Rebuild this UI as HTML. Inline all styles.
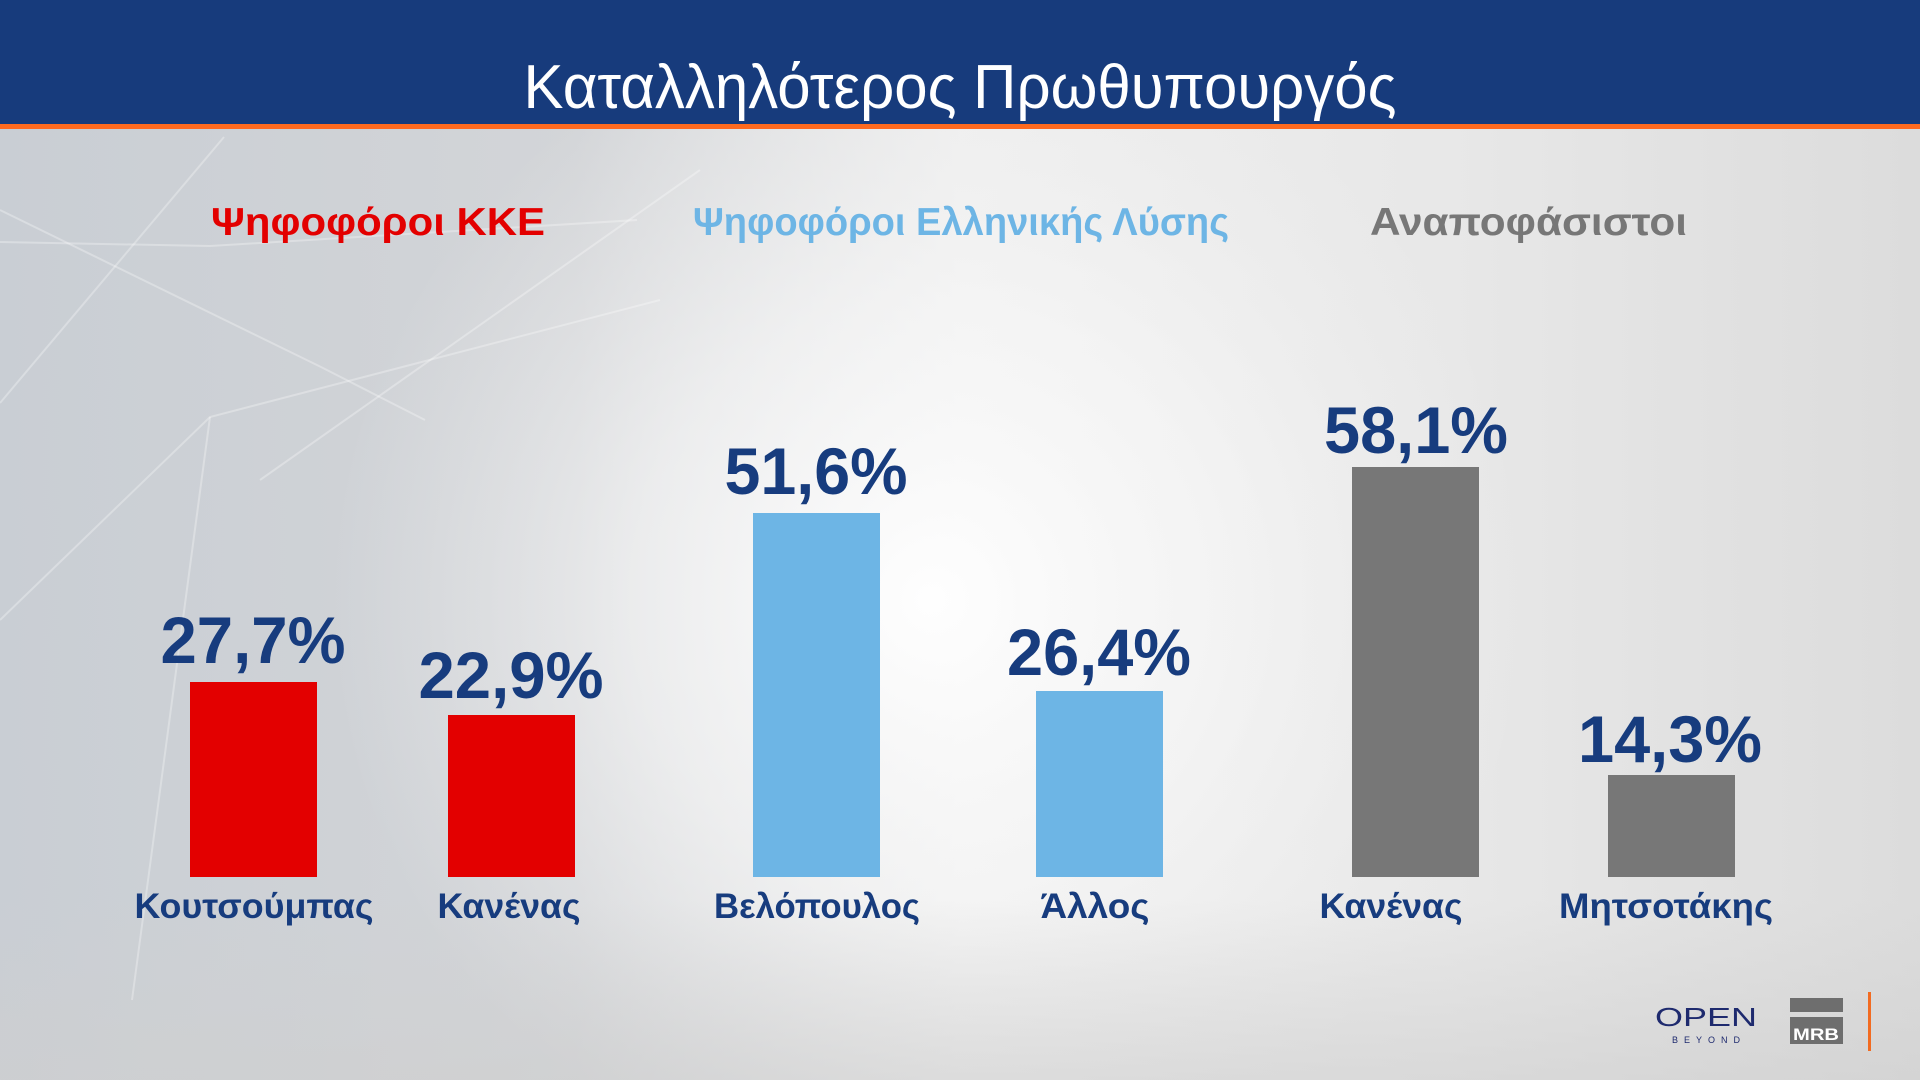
<!DOCTYPE html>
<html>
<head>
<meta charset="utf-8">
<style>
html,body{margin:0;padding:0;width:1920px;height:1080px;overflow:hidden;background:#e6e6e6;}
svg{display:block;}
</style>
</head>
<body>
<svg width="1920" height="1080" viewBox="0 0 1920 1080" xmlns="http://www.w3.org/2000/svg">
  <defs>
    <linearGradient id="bgLin" x1="0" y1="0" x2="1" y2="0">
      <stop offset="0" stop-color="#c9ced4"/>
      <stop offset="0.3" stop-color="#d3d5d8"/>
      <stop offset="0.5" stop-color="#eeeeee"/>
      <stop offset="0.75" stop-color="#e8e8e8"/>
      <stop offset="1" stop-color="#dcdcdc"/>
    </linearGradient>
    <radialGradient id="glow" cx="930" cy="600" r="600" gradientUnits="userSpaceOnUse">
      <stop offset="0" stop-color="#ffffff" stop-opacity="0.95"/>
      <stop offset="0.5" stop-color="#f8f8f8" stop-opacity="0.6"/>
      <stop offset="1" stop-color="#f0f0f0" stop-opacity="0"/>
    </radialGradient>
    <linearGradient id="bot" x1="0" y1="0" x2="0" y2="1">
      <stop offset="0" stop-color="#d0d0d0" stop-opacity="0"/>
      <stop offset="1" stop-color="#cfcfcf" stop-opacity="0.6"/>
    </linearGradient>
  </defs>

  <!-- background -->
  <rect x="0" y="0" width="1920" height="1080" fill="url(#bgLin)"/>
  <rect x="0" y="0" width="1920" height="1080" fill="url(#glow)"/>
  <rect x="0" y="900" width="1920" height="180" fill="url(#bot)"/>

  <!-- faint decorative lines -->
  <g stroke="#ffffff" stroke-opacity="0.3" stroke-width="2" fill="none">
    <polyline points="224,137 0,403"/>
    <polyline points="0,210 321,367 425,420"/>
    <polyline points="0,242 210,246 637,220"/>
    <polyline points="0,620 210,417 660,300"/>
    <polyline points="260,480 700,170"/>
    <polyline points="210,417 132,1000"/>
  </g>

  <!-- header -->
  <rect x="0" y="0" width="1920" height="124" fill="#173b7c"/>
  <rect x="0" y="124" width="1920" height="5" fill="#ff6a1f"/>
  <text x="960" y="108" text-anchor="middle" font-family="Liberation Sans, sans-serif" font-size="62" fill="#ffffff" textLength="873" lengthAdjust="spacingAndGlyphs">Καταλληλότερος Πρωθυπουργός</text>

  <!-- group headings -->
  <g font-family="Liberation Sans, sans-serif" font-weight="bold" font-size="39">
    <text x="211" y="235" fill="#e30000" textLength="334" lengthAdjust="spacingAndGlyphs">Ψηφοφόροι ΚΚΕ</text>
    <text x="693" y="235" fill="#6db5e5" textLength="536" lengthAdjust="spacingAndGlyphs">Ψηφοφόροι Ελληνικής Λύσης</text>
    <text x="1370" y="235" fill="#777777" textLength="317" lengthAdjust="spacingAndGlyphs">Αναποφάσιστοι</text>
  </g>

  <!-- bars -->
  <rect x="190" y="682" width="127" height="195" fill="#e30000"/>
  <rect x="448" y="715" width="127" height="162" fill="#e30000"/>
  <rect x="753" y="513" width="127" height="364" fill="#6db5e5"/>
  <rect x="1036" y="691" width="127" height="186" fill="#6db5e5"/>
  <rect x="1352" y="467" width="127" height="410" fill="#777777"/>
  <rect x="1608" y="775" width="127" height="102" fill="#777777"/>

  <!-- value labels -->
  <g font-family="Liberation Sans, sans-serif" font-weight="bold" font-size="66" fill="#173c7e" text-anchor="middle">
    <text x="253" y="663" textLength="185" lengthAdjust="spacingAndGlyphs">27,7%</text>
    <text x="511" y="698" textLength="185" lengthAdjust="spacingAndGlyphs">22,9%</text>
    <text x="816" y="494" textLength="183" lengthAdjust="spacingAndGlyphs">51,6%</text>
    <text x="1099" y="675" textLength="184" lengthAdjust="spacingAndGlyphs">26,4%</text>
    <text x="1416" y="453" textLength="184" lengthAdjust="spacingAndGlyphs">58,1%</text>
    <text x="1670" y="762" textLength="184" lengthAdjust="spacingAndGlyphs">14,3%</text>
  </g>

  <!-- category labels -->
  <g font-family="Liberation Sans, sans-serif" font-weight="bold" font-size="35" fill="#173c7e" text-anchor="middle">
    <text x="254" y="918" textLength="239" lengthAdjust="spacingAndGlyphs">Κουτσούμπας</text>
    <text x="509" y="918" textLength="143" lengthAdjust="spacingAndGlyphs">Κανένας</text>
    <text x="817" y="918" textLength="206" lengthAdjust="spacingAndGlyphs">Βελόπουλος</text>
    <text x="1095" y="918" textLength="109" lengthAdjust="spacingAndGlyphs">Άλλος</text>
    <text x="1391" y="918" textLength="143" lengthAdjust="spacingAndGlyphs">Κανένας</text>
    <text x="1666" y="918" textLength="214" lengthAdjust="spacingAndGlyphs">Μητσοτάκης</text>
  </g>

  <!-- logos -->
  <text x="1655" y="1026" font-family="Liberation Sans, sans-serif" font-size="26" fill="#1e2a6e" textLength="102" lengthAdjust="spacingAndGlyphs">OPEN</text>
  <text x="1672" y="1043" font-family="Liberation Sans, sans-serif" font-size="9" fill="#1e2a6e" textLength="68" lengthAdjust="spacing">BEYOND</text>

  <rect x="1790" y="998" width="53" height="14" fill="#6e6e6e"/>
  <rect x="1790" y="1017" width="53" height="27" fill="#6e6e6e"/>
  <text x="1816" y="1040" text-anchor="middle" font-family="Liberation Sans, sans-serif" font-weight="bold" font-size="17" fill="#ffffff" textLength="46" lengthAdjust="spacingAndGlyphs">MRB</text>

  <rect x="1868" y="992" width="3" height="59" fill="#f26b21"/>
</svg>
</body>
</html>
